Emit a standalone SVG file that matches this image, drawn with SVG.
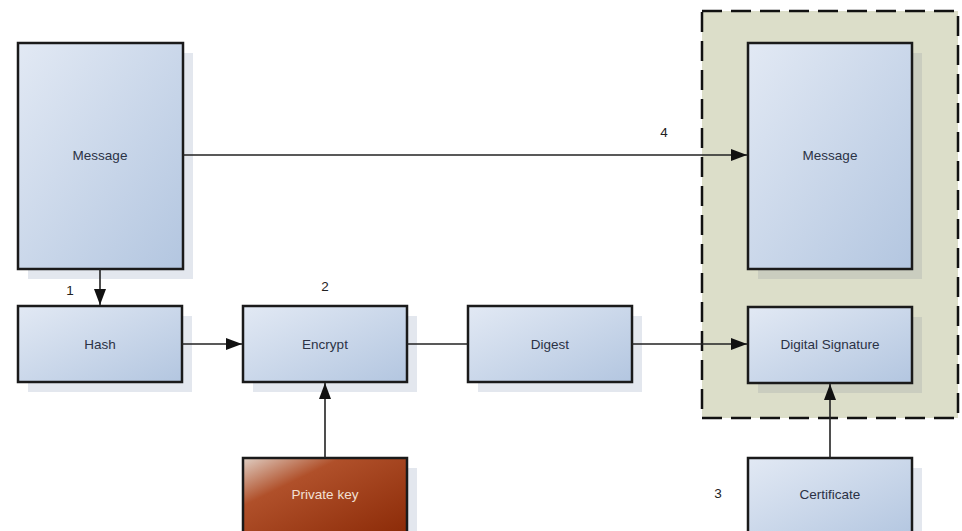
<svg xmlns="http://www.w3.org/2000/svg" width="962" height="531" viewBox="0 0 962 531">
<defs>
<linearGradient id="blue" x1="0" y1="0" x2="1" y2="1">
<stop offset="0" stop-color="#e2e9f4"/>
<stop offset="1" stop-color="#b3c6e0"/>
</linearGradient>
<linearGradient id="rust" x1="0" y1="0" x2="1" y2="1">
<stop offset="0" stop-color="#e0cfc4"/>
<stop offset="0.3" stop-color="#b0502a"/>
<stop offset="1" stop-color="#8a2906"/>
</linearGradient>
<marker id="arr" viewBox="0 0 16 12" refX="16" refY="6" markerWidth="16" markerHeight="12" markerUnits="userSpaceOnUse" orient="auto">
<path d="M0,0 L16,6 L0,12 Z" fill="#111"/>
</marker>
</defs>
<style>
.box{fill:url(#blue);stroke:#1a1a1a;stroke-width:2.5}
.shadow{fill:#e3e7ee}
.shadow2{fill:#cacdbf}
.lbl{font-family:"Liberation Sans",Arial,sans-serif;font-size:13.5px;fill:#2b3245;text-anchor:middle}
.num{font-family:"Liberation Sans",Arial,sans-serif;font-size:13.5px;fill:#222;text-anchor:middle}
.conn{stroke:#222;stroke-width:1.6;fill:none}
</style>
<rect width="962" height="531" fill="#fff"/>
<g id="container">
<rect x="702" y="11" width="256" height="407" fill="#dcdec9" stroke="#111" stroke-width="2.5" stroke-dasharray="20,9"/>
</g>
<g id="message-left">
<rect class="shadow" x="28" y="53" width="165" height="226"/>
<rect class="box" x="18" y="43" width="165" height="226"/>
<text class="lbl" x="100" y="160">Message</text>
</g>
<g id="hash">
<rect class="shadow" x="28" y="316" width="164" height="76"/>
<rect class="box" x="18" y="306" width="164" height="76"/>
<text class="lbl" x="100" y="349">Hash</text>
</g>
<g id="encrypt">
<rect class="shadow" x="253" y="316" width="164" height="76"/>
<rect class="box" x="243" y="306" width="164" height="76"/>
<text class="lbl" x="325" y="349">Encrypt</text>
</g>
<g id="digest">
<rect class="shadow" x="478" y="316" width="164" height="76"/>
<rect class="box" x="468" y="306" width="164" height="76"/>
<text class="lbl" x="550" y="349">Digest</text>
</g>
<g id="message-right">
<rect class="shadow2" x="758" y="53" width="164" height="226"/>
<rect class="box" x="748" y="43" width="164" height="226"/>
<text class="lbl" x="830" y="160">Message</text>
</g>
<g id="digital-signature">
<rect class="shadow2" x="758" y="317" width="164" height="76"/>
<rect class="box" x="748" y="307" width="164" height="76"/>
<text class="lbl" x="830" y="349">Digital Signature</text>
</g>
<g id="private-key">
<rect class="shadow" x="253" y="468" width="164" height="80"/>
<rect x="243" y="458" width="164" height="80" fill="url(#rust)" stroke="#1a1a1a" stroke-width="2.5"/>
<text class="lbl" x="325" y="499" style="fill:#f2e0d4">Private key</text>
</g>
<g id="certificate">
<rect class="shadow" x="758" y="468" width="164" height="80"/>
<rect class="box" x="748" y="458" width="164" height="80"/>
<text class="lbl" x="830" y="499">Certificate</text>
</g>
<g id="connectors">
<line class="conn" x1="100" y1="269" x2="100" y2="305" marker-end="url(#arr)"/>
<line class="conn" x1="182" y1="344" x2="242" y2="344" marker-end="url(#arr)"/>
<line class="conn" x1="407" y1="344" x2="468" y2="344"/>
<line class="conn" x1="632" y1="344" x2="747" y2="344" marker-end="url(#arr)"/>
<line class="conn" x1="183" y1="155" x2="747" y2="155" marker-end="url(#arr)"/>
<line class="conn" x1="325" y1="458" x2="325" y2="383" marker-end="url(#arr)"/>
<line class="conn" x1="830" y1="458" x2="830" y2="384" marker-end="url(#arr)"/>
</g>
<g id="labels">
<text class="num" x="70" y="295">1</text>
<text class="num" x="325" y="291">2</text>
<text class="num" x="718" y="498">3</text>
<text class="num" x="664" y="137">4</text>
</g>
</svg>
